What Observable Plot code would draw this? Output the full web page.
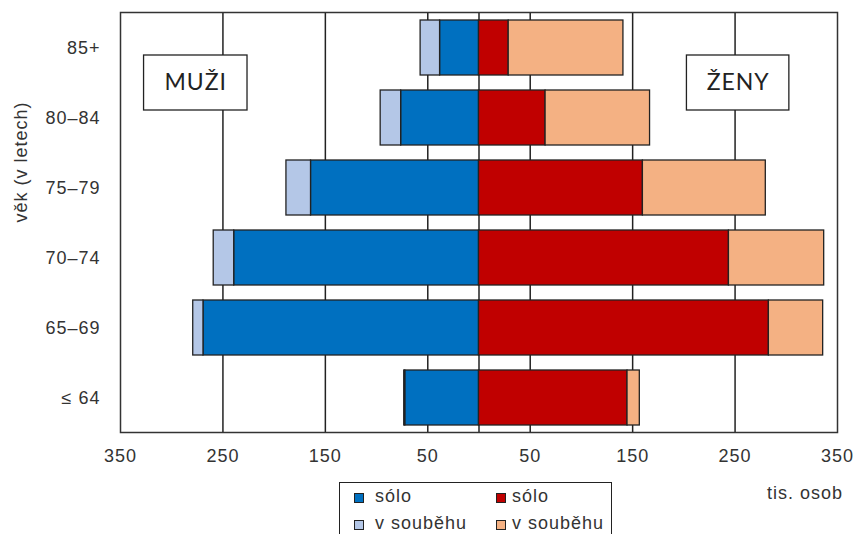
<!DOCTYPE html>
<html>
<head>
<meta charset="utf-8">
<script src="https://cdn.jsdelivr.net/npm/d3@7"></script>
<script src="https://cdn.jsdelivr.net/npm/@observablehq/plot@0.6"></script>
<style>
  html, body { margin: 0; padding: 0; background: #fff; overflow: hidden; }
  #wrap { position: relative; width: 856px; height: 534px; overflow: hidden; font-family: "Liberation Sans", Arial, sans-serif; color: #333; }
  #legend { position: absolute; left: 339px; top: 482px; width: 273px; height: 62px; border: 1px solid #222; background: #fff; box-sizing: border-box; }
  .txt { position: absolute; font-size: 18px; letter-spacing: 1px; line-height: 18px; white-space: nowrap; }
  .sw { position: absolute; width: 8px; height: 8px; border: 1px solid #222; }
  #unit { position: absolute; left: 767px; top: 483px; font-size: 18px; letter-spacing: 1px; line-height: 20px; }
</style>
</head>
<body>
<div id="wrap"><div id="chart"></div><div id="legend"></div><div id="unit"></div></div>
<script>
// ---- data (thousands of persons) ----
const ages = ["≤ 64", "65–69", "70–74", "75–79", "80–84", "85+"];
const menSolo     = [72, 269, 239, 164, 76, 38];
const menSoubeh   = [1, 10, 20, 24, 20, 19];
const womenSolo   = [145, 283, 244, 160, 65, 29];
const womenSoubeh = [12, 53, 93, 120, 102, 112];
const seriesKeys   = ["muži sólo", "muži v souběhu", "ženy sólo", "ženy v souběhu"];
const seriesColors = ["#0070C0", "#B4C7E7", "#C00000", "#F4B183"];
const legendLabels = ["sólo", "v souběhu", "sólo", "v souběhu"];
const xTicks = [-350, -250, -150, -50, 50, 150, 250, 350];
const gridValues = [-250, -150, -50, 0, 50, 150, 250];
const yLabel = "věk (v letech)";
const unitLabel = "tis. osob";
const boxLabels = [
  {text: "MUŽI", x1: -327, x2: -226, age: "85+"},
  {text: "ŽENY", x1: 203, x2: 303, age: "85+"}
];

// ---- table ----
const rows = [];
ages.forEach((a, i) => {
  rows.push({age: a, key: seriesKeys[0], value: -menSolo[i]});
  rows.push({age: a, key: seriesKeys[1], value: -menSoubeh[i]});
  rows.push({age: a, key: seriesKeys[2], value: womenSolo[i]});
  rows.push({age: a, key: seriesKeys[3], value: womenSoubeh[i]});
});

const chart = Plot.plot({
  width: 856,
  height: 480,
  marginLeft: 120,
  marginRight: 19,
  marginTop: 12,
  marginBottom: 48,
  style: {fontFamily: "'Liberation Sans', Arial, sans-serif", fontSize: "18px", letterSpacing: "1px", color: "#333", background: "#fff"},
  x: {domain: [-350, 350], ticks: xTicks, tickFormat: d => Math.abs(d), tickSize: 0, tickPadding: 17, label: null},
  y: {domain: ages.slice().reverse(), paddingInner: 0.22, paddingOuter: 0.11, tickSize: 0, tickPadding: 20, label: null},
  color: {domain: seriesKeys, range: seriesColors},
  marks: [
    Plot.ruleX(gridValues, {stroke: "#222", strokeWidth: 1.5}),
    Plot.barX(rows, Plot.stackX({x: "value", y: "age", fill: "key", stroke: "#222", strokeWidth: 1.3})),
    Plot.barX(boxLabels, {x1: "x1", x2: "x2", y: "age", dy: 35, fill: "#fff", stroke: "#222", strokeWidth: 1.3}),
    Plot.text(boxLabels, {x: d => (d.x1 + d.x2) / 2, y: "age", dy: 35, text: "text", fontSize: 23, fontFamily: "Lato, 'Open Sans', sans-serif", fill: "#222", letterSpacing: 0}),
    Plot.text([yLabel], {frameAnchor: "left", rotate: -90, dx: -99, lineAnchor: "middle", fill: "#333"}),
    Plot.frame({stroke: "#333", strokeWidth: 1.5})
  ]
});
document.getElementById("chart").appendChild(chart);

// ---- legend ----
const legend = document.getElementById("legend");
const swPos = [[14, 10], [14, 37], [156, 10], [156, 37]];
const txtPos = [[35, 4], [35, 31], [172, 4], [172, 31]];
seriesKeys.forEach((k, i) => {
  const sw = document.createElement("div");
  sw.className = "sw";
  sw.style.left = swPos[i][0] + "px";
  sw.style.top = swPos[i][1] + "px";
  sw.style.background = seriesColors[i];
  legend.appendChild(sw);
  const t = document.createElement("div");
  t.className = "txt";
  t.style.left = txtPos[i][0] + "px";
  t.style.top = txtPos[i][1] + "px";
  t.textContent = legendLabels[i];
  legend.appendChild(t);
});
document.getElementById("unit").textContent = unitLabel;
</script>
</body>
</html>
